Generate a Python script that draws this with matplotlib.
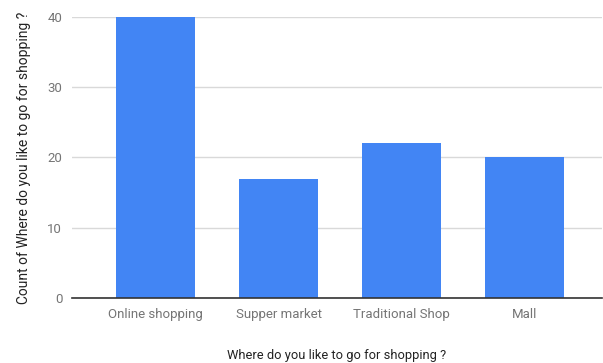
import matplotlib.pyplot as plt

# data
categories = ['Online shopping', 'Supper market', 'Traditional Shop', 'Mall']
counts = [40, 17, 22, 20]
yticks = [0, 10, 20, 30, 40]

plt.rcParams['font.family'] = ['Roboto', 'DejaVu Sans']

fig = plt.figure(figsize=(6.03, 3.63), dpi=100)
ax = fig.add_axes([72 / 603, 1 - 298 / 363, 530 / 603, 281 / 363])

x = range(len(categories))
ax.bar(x, counts, width=0.64, color='#4285F4', zorder=3)

ax.set_xlim(-0.68, 3.63)
ax.set_ylim(0, 40)
ax.set_yticks(yticks)
ax.set_xticks(list(x))
ax.set_xticklabels(categories)
ax.grid(axis='y', color='#d9d9d9', linewidth=1, zorder=0)

for s in ['top', 'right', 'left']:
    ax.spines[s].set_visible(False)
ax.spines['bottom'].set_color('#333333')
ax.spines['bottom'].set_linewidth(1.2)
ax.spines['bottom'].set_zorder(4)

ax.tick_params(axis='both', length=0, labelsize=9.5, labelcolor='#757575')
ax.tick_params(axis='x', pad=7)
ax.tick_params(axis='y', pad=7)

ax.set_xlabel('Where do you like to go for shopping ?', fontsize=9.3, color='#222222', labelpad=20)
ax.set_ylabel('Count of Where do you like to go for shopping ?', fontsize=10, color='#222222', labelpad=12)

fig.savefig('out.png', dpi=100)
